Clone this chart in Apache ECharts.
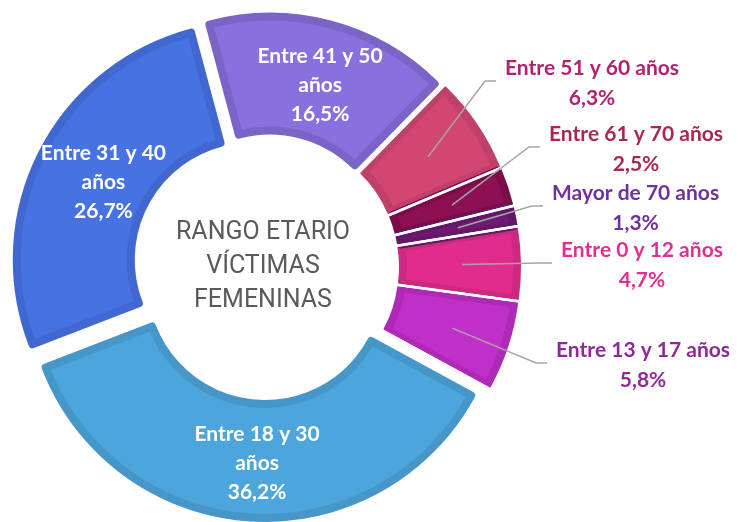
<!DOCTYPE html>
<html><head><meta charset="utf-8">
<script src="https://cdn.jsdelivr.net/npm/echarts@6/dist/echarts.min.js"></script>
<style>html,body{margin:0;padding:0;background:#fff}#c{width:742px;height:522px}</style>
</head><body><div id="c"></div>
<script>
// ---- data ----
const categories = ['Entre 0 y 12 años','Entre 13 y 17 años','Entre 18 y 30 años','Entre 31 y 40 años','Entre 41 y 50 años','Entre 51 y 60 años','Entre 61 y 70 años','Mayor de 70 años'];
const values = [4.7, 5.8, 36.2, 26.7, 16.5, 6.3, 2.5, 1.3];
const centerTitle = 'RANGO ETARIO\nVÍCTIMAS\nFEMENINAS';

// ---- styles ----
const fillColors   = ['#e02d8c','#c030c8','#4da6db','#4673e1','#8671de','#d24673','#8c1052','#6e1a73'];
const borderColors = ['#cc2a80','#ae29b6','#4696c8','#4068d0','#7a64c8','#c0406a','#7b0c47','#631767'];
const labelColors  = ['#e0308f','#8e2a98','#ffffff','#ffffff','#ffffff','#b0236f','#a8284e','#7030a0'];
const insideIdx = [2, 3, 4];
// fine shifts of inside labels (dx, dy)
const insideShift = {2:[4,0], 3:[13,5], 4:[4,9]};
// label block (left x, middle y) for outside labels
const outsideLabelPos = {0:[561,265], 1:[556,365], 5:[505,83], 6:[549,149], 7:[552,208]};

const CENTER = [266, 267];
const START = 9.2;
const pct = v => v.toFixed(1).replace('.', ',') + '%';

const chart = echarts.init(document.getElementById('c'), null, {renderer:'canvas'});
const LABEL_FONT = {fontFamily:'Lato', fontWeight:'bold', fontSize:21};

chart.setOption({
  animation:false,
  backgroundColor:'#ffffff',
  title:{
    text:centerTitle, left:258, top:262, textAlign:'center', textVerticalAlign:'middle', z:100,
    textStyle:{fontFamily:'Roboto', fontWeight:'normal', fontSize:25, color:'#5a5a5a', lineHeight:34}
  },
  series:[
    {
      type:'pie', z:2, center:CENTER, radius:[121,235], startAngle:START, clockwise:true,
      selectedMode:'multiple', selectedOffset:16, avoidLabelOverlap:false,
      emphasis:{disabled:true},
      label:Object.assign({position:'inside', color:'#fff', lineHeight:29, align:'center',
        formatter:p => categories[p.dataIndex].replace(' años','\naños') + '\n' + pct(p.value)}, LABEL_FONT),
      labelLine:{show:false},
      labelLayout:function(p){
        const s = insideShift[p.dataIndex];
        return s ? {dx:s[0], dy:s[1]} : {};
      },
      data: values.map((v,i)=>({
        name:categories[i], value:v, selected:true,
        itemStyle:{color:fillColors[i], borderColor:borderColors[i], borderWidth:8},
        select:{itemStyle:{color:fillColors[i], borderColor:borderColors[i], borderWidth:8}},
        label:{show: insideIdx.includes(i)}
      }))
    },
    {
      type:'pie', z:3, center:CENTER, radius:[0,275], startAngle:START, clockwise:true, silent:true,
      emphasis:{disabled:true}, label:{show:false}, labelLine:{show:false},
      itemStyle:{color:'rgba(0,0,0,0)', borderColor:'#ffffff', borderWidth:2.5},
      data: values.map((v,i)=>({name:categories[i], value:v}))
    },
    {
      type:'pie', z:4, center:CENTER, radius:[0,196], startAngle:START, clockwise:true, silent:true,
      avoidLabelOverlap:false, emphasis:{disabled:true},
      itemStyle:{color:'rgba(0,0,0,0)', borderWidth:0},
      label:Object.assign({position:'outside', lineHeight:30, align:'center',
        formatter:p => categories[p.dataIndex] + '\n' + pct(p.value)}, LABEL_FONT),
      labelLine:{show:true, length:10, length2:10, lineStyle:{color:'#a6a6a6', width:1.5}},
      labelLayout:function(p){
        const box = outsideLabelPos[p.dataIndex];
        if(!box) return {};
        const left = box[0], cy = box[1];
        const w = p.labelRect.width;
        const lineY = cy - 2;
        const res = {x:left + w/2, y:cy, align:'center', verticalAlign:'middle'};
        if (p.labelLinePoints && p.labelLinePoints[0]) {
          res.labelLinePoints = [p.labelLinePoints[0], [left-20, lineY], [left-9, lineY]];
        }
        return res;
      },
      data: values.map((v,i)=>({
        name:categories[i], value:v,
        label:{show: !insideIdx.includes(i), color:labelColors[i]},
        labelLine:{show: !insideIdx.includes(i)}
      }))
    }
  ]
});
</script></body></html>
